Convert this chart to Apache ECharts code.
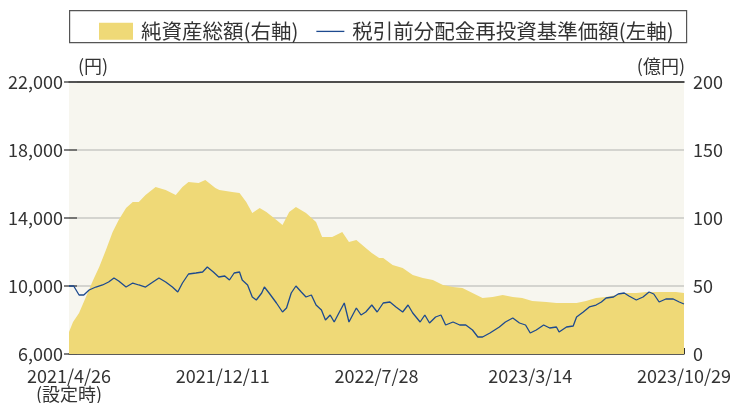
<!DOCTYPE html>
<html>
<head>
<meta charset="utf-8">
<script src="https://cdn.jsdelivr.net/npm/echarts@6/dist/echarts.min.js"></script>
<style>html,body{margin:0;padding:0;background:#fff;}#c{width:734px;height:403px;}</style>
</head>
<body>
<div id="c"></div>
<script>
// x values are days elapsed since 2021/4/26 (inception)
const xTickLabels = ['2021/4/26\n(設定時)', '2021/12/11', '2022/7/28', '2023/3/14', '2023/10/29'];
const seriesNames = ['純資産総額(右軸)', '税引前分配金再投資基準価額(左軸)'];
const axisNames = ['(円)', '(億円)'];

// Net assets (億円), right axis
const navDays = [0,6,15,36,45,55,65,74,85,95,104,114,129,144,159,169,178,193,203,218,224,243,254,264,273,284,294,309,318,328,338,353,368,377,392,407,417,428,442,451,462,468,482,497,512,527,542,557,572,586,601,616,631,646,661,675,690,711,726,741,756,770,785,800,815,830,845,860,874,889,904,916];
const navValues = [16.2,23.5,30.1,54.4,64.0,76.5,89.7,98.5,107.4,111.8,111.8,116.9,122.8,120.6,116.9,122.8,126.5,125.7,127.9,122.1,120.6,119.1,118.4,111.8,103.7,107.4,104.4,98.5,94.9,104.4,108.1,103.7,97.1,86.0,86.0,89.7,82.4,83.8,77.9,74.3,70.6,70.6,65.4,63.2,58.1,55.9,54.4,50.7,49.3,48.5,44.9,41.2,41.9,43.4,41.9,41.2,39.0,38.2,37.5,37.5,37.5,39.0,41.2,41.9,43.4,44.9,44.9,45.6,45.6,45.6,45.6,44.9];

// NAV with dividends reinvested (円), left axis
const priceDays = [0,7,15,22,30,40,50,59,67,74,85,95,104,114,125,134,144,154,162,169,178,189,199,206,215,223,232,239,246,254,258,266,273,279,287,291,298,309,318,324,331,338,346,353,361,368,376,382,389,395,402,410,417,428,435,442,451,459,468,478,487,497,505,512,523,530,537,546,554,561,572,582,591,601,609,616,627,634,641,650,661,671,680,687,696,707,716,726,730,741,751,756,766,775,785,793,800,811,818,827,834,845,855,864,871,879,889,900,909,916];
const priceValues = [10000,10000,9471,9471,9765,9941,10059,10235,10471,10294,9941,10176,10059,9941,10235,10471,10235,9941,9647,10176,10706,10765,10824,11118,10824,10529,10588,10353,10765,10824,10353,10059,9353,9176,9588,9941,9588,9000,8471,8706,9588,10000,9647,9353,9471,8882,8588,8000,8294,7882,8412,9000,7882,8706,8294,8471,8882,8471,9000,9059,8765,8471,8882,8412,7882,8294,7824,8176,8294,7706,7882,7706,7706,7412,7000,7000,7235,7412,7588,7882,8118,7824,7706,7235,7412,7706,7529,7588,7294,7588,7647,8176,8471,8765,8882,9059,9294,9353,9529,9588,9412,9176,9353,9647,9529,9059,9235,9235,9059,8941];

const navData = navDays.map((d, i) => [d, navValues[i]]);
const priceData = priceDays.map((d, i) => [d, priceValues[i]]);

const FONT = "'Noto Sans CJK JP', 'Noto Sans', sans-serif";
const TXT = '#333';
const XSTEP = 229;
const YELLOW = '#efd977';
const BLUE = '#1d4a8f';

const chart = echarts.init(document.getElementById('c'), null, {renderer: 'canvas'});
chart.setOption({
  animation: false,
  textStyle: {fontFamily: FONT},
  graphic: [{
    type: 'rect', left: 69, top: 10, z: -1,
    shape: {width: 617, height: 32},
    style: {fill: '#fff', stroke: '#555', lineWidth: 1.2}
  }, {
    type: 'text', left: 78, top: 57,
    style: {text: axisNames[0], font: "18px 'Noto Sans CJK JP'", fill: TXT}
  }, {
    type: 'text', right: 49, top: 57,
    style: {text: axisNames[1], font: "18px 'Noto Sans CJK JP'", fill: TXT}
  }],
  legend: {
    left: 94, top: 16, itemWidth: 34, itemHeight: 17, itemGap: 12,
    textStyle: {fontFamily: FONT, fontSize: 20.5, color: TXT, padding: [0, 0, 0, 3]},
    data: [
      {name: seriesNames[0], icon: 'rect', itemStyle: {color: YELLOW}},
      {name: seriesNames[1], icon: 'path://M0,0 M6,8 L34,8 L34,9.3 L6,9.3 Z M34,17', itemStyle: {color: BLUE}}
    ]
  },
  grid: {left: 69, right: 47, top: 82, bottom: 49, show: true, backgroundColor: '#f7f6ef', borderWidth: 0},
  xAxis: [{
    type: 'value', min: 0, max: XSTEP * 4, interval: XSTEP,
    axisLine: {show: true, lineStyle: {color: '#333', width: 1.5}},
    axisTick: {show: true, inside: true, length: 6, lineStyle: {color: '#333'}},
    splitLine: {show: false},
    axisLabel: {
      fontFamily: FONT, fontSize: 18, color: TXT, margin: 13, lineHeight: 18,
      formatter: v => xTickLabels[Math.round(v / XSTEP)] || ''
    }
  }, {
    type: 'value', position: 'top', min: 0, max: XSTEP * 4,
    axisLine: {show: true, lineStyle: {color: '#222', width: 1.5}},
    axisTick: {show: false}, axisLabel: {show: false}, splitLine: {show: false}
  }],
  yAxis: [{
    type: 'value', min: 6000, max: 22000, interval: 4000,
    axisLine: {show: false},
    axisTick: {show: true, inside: true, length: 8, lineStyle: {color: '#555', width: 1.5}},
    splitLine: {show: true, lineStyle: {color: '#c8c8c4', width: 1.5}},
    axisLabel: {fontFamily: FONT, fontSize: 18, color: TXT, margin: 6,
      formatter: v => v.toLocaleString('en-US')}
  }, {
    type: 'value', min: 0, max: 200, interval: 50, position: 'right',
    axisLine: {show: false},
    axisTick: {show: true, inside: true, length: 5, lineStyle: {color: '#555', width: 1.5}},
    splitLine: {show: false},
    axisLabel: {fontFamily: FONT, fontSize: 18, color: TXT, margin: 9}
  }],
  series: [{
    name: seriesNames[0], type: 'line', yAxisIndex: 1, xAxisIndex: 0,
    data: navData, symbol: 'none', smooth: false,
    lineStyle: {width: 0, color: YELLOW},
    itemStyle: {color: YELLOW},
    areaStyle: {color: YELLOW, opacity: 1},
    z: 1
  }, {
    name: seriesNames[1], type: 'line', yAxisIndex: 0, xAxisIndex: 0,
    data: priceData, symbol: 'none', smooth: false,
    lineStyle: {width: 1.3, color: BLUE},
    itemStyle: {color: BLUE},
    z: 3
  }]
});
</script>
</body>
</html>
